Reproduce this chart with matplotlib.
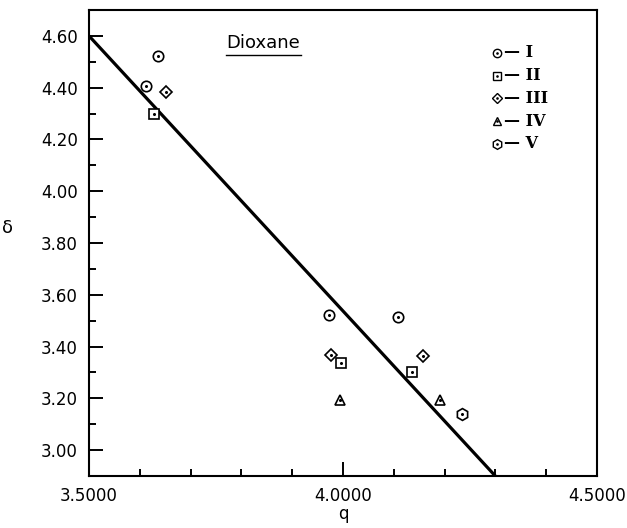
import numpy as np
import matplotlib.pyplot as plt

# series (q, delta)
q_I = [3.635, 3.612, 3.973, 4.108]
d_I = [4.522, 4.406, 3.522, 3.514]
q_II = [3.628, 3.996, 4.135]
d_II = [4.298, 3.336, 3.302]
q_III = [3.651, 3.976, 4.157]
d_III = [4.383, 3.367, 3.364]
q_IV = [3.994, 4.192]
d_IV = [3.194, 3.194]
q_V = [4.235]
d_V = [3.140]

# fitted line end points
q_fit = [3.5, 4.3]
d_fit = [4.60, 2.90]

labels = ["I", "II", "III", "IV", "V"]
markers = ["o", "s", "D", "^", "h"]
sizes = [7.5, 7.0, 6.5, 7.5, 8.5]

fig = plt.figure(figsize=(6.27, 5.28), dpi=100)
ax = fig.add_axes([0.142, 0.0985, 0.810, 0.8825])

ax.plot(q_fit, d_fit, "k", lw=2.3, solid_capstyle="butt", zorder=2)

series = [(q_I, d_I), (q_II, d_II), (q_III, d_III), (q_IV, d_IV), (q_V, d_V)]
for (qs, ds), m, s in zip(series, markers, sizes):
    ax.plot(qs, ds, m, markerfacecolor="white", markeredgecolor="k",
            markersize=s, markeredgewidth=1.2, zorder=3)
    ax.plot(qs, ds, ".", color="k", markersize=2.4, zorder=4)

# hand-made legend
for i, (lab, m, s) in enumerate(zip(labels, markers, sizes)):
    y = 0.908 - i * 0.0488
    ax.plot([0.803], [y], m, transform=ax.transAxes, markerfacecolor="white",
            markeredgecolor="k", markersize=s - 1.5, markeredgewidth=1.0)
    ax.plot([0.803], [y], ".", transform=ax.transAxes, color="k", markersize=1.8)
    ax.text(0.818, y, "\u2014 " + lab, transform=ax.transAxes, va="center",
            ha="left", fontsize=11.5, family="DejaVu Serif", fontweight="bold")

ax.text(0.343, 0.93, "Dioxane", transform=ax.transAxes, ha="center",
        va="center", fontsize=13)
ax.plot([0.27, 0.418], [0.903, 0.903], "k", lw=1.0, transform=ax.transAxes)

ax.set_xlim(3.5, 4.5)
ax.set_ylim(2.90, 4.70)
ax.set_xticks([3.5, 4.0, 4.5])
ax.set_xticklabels(["3.5000", "4.0000", "4.5000"])
ax.set_xticks(np.arange(3.6, 4.45, 0.1), minor=True)
ax.set_yticks(np.arange(3.0, 4.65, 0.2))
ax.set_yticklabels([f"{v:.2f}" for v in np.arange(3.0, 4.65, 0.2)])
ax.set_yticks(np.arange(2.9, 4.75, 0.2), minor=True)

ax.tick_params(which="both", direction="in", top=False, right=False,
               labelsize=12, width=1.4)
ax.tick_params(which="major", length=10, pad=8)
ax.tick_params(which="minor", length=5)
for sp in ax.spines.values():
    sp.set_linewidth(1.5)

ax.set_xlabel("q", fontsize=12, labelpad=0)
ax.set_ylabel("\u03b4", fontsize=13, rotation=0, va="center")
ax.yaxis.set_label_coords(-0.16, 0.532)

fig.savefig("out.png", dpi=100)
